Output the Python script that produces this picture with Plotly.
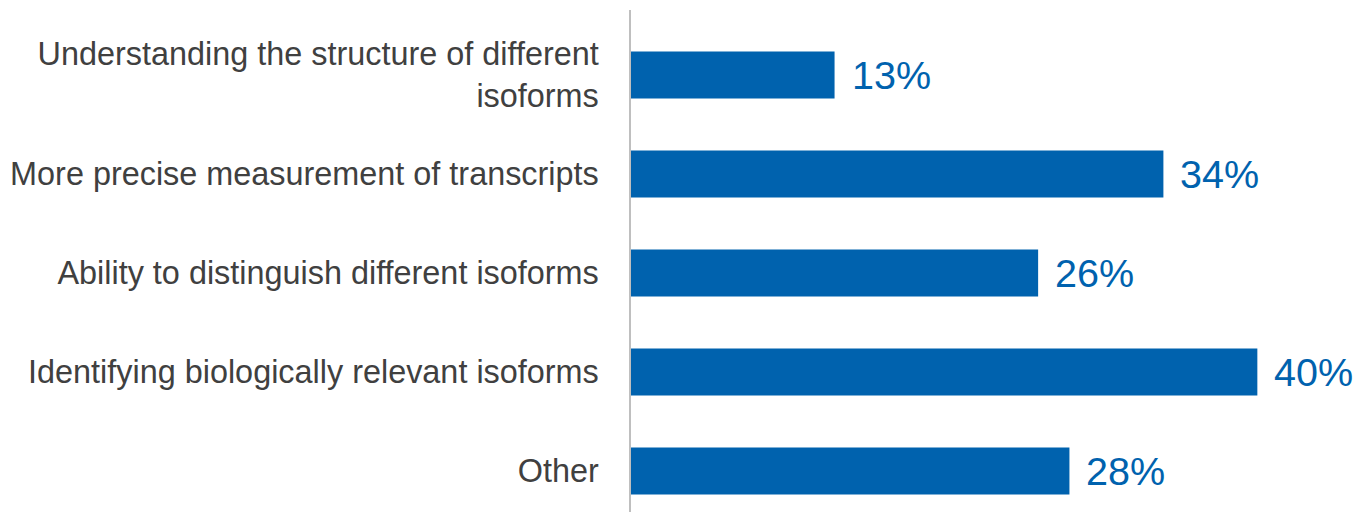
import plotly.graph_objects as go

categories = [
    "Understanding the structure of different<br>isoforms",
    "More precise measurement of transcripts",
    "Ability to distinguish different isoforms",
    "Identifying biologically relevant isoforms",
    "Other",
]
values = [13, 34, 26, 40, 28]

BLUE = "#0062AE"

fig = go.Figure(
    go.Bar(
        x=values,
        y=categories,
        orientation="h",
        marker=dict(color=BLUE, line=dict(width=0)),
        width=0.475,
        hoverinfo="skip",
    )
)

for c, v in zip(categories, values):
    fig.add_annotation(
        x=v, y=c, text=f"{v}%", showarrow=False, xanchor="left", yanchor="middle",
        xshift=15, font=dict(family="Liberation Sans, Arial, sans-serif", size=39.5, color=BLUE),
    )

fig.update_layout(
    width=1356, height=512,
    margin=dict(l=631, r=0, t=10, b=0),
    paper_bgcolor="white", plot_bgcolor="white",
    showlegend=False,
    font=dict(family="Liberation Sans, Arial, sans-serif"),
)
fig.update_xaxes(range=[0, 46.3], visible=False, fixedrange=True, automargin=False)
fig.update_yaxes(
    type="category",
    categoryorder="array", categoryarray=categories,
    range=[4.414, -0.657],
    showline=True, linecolor="#BFBFBF", linewidth=1.5,
    showgrid=False, zeroline=False, ticks="",
    ticklabelstandoff=24,
    automargin=False,
    fixedrange=True,
    tickfont=dict(family="Liberation Sans, Arial, sans-serif", size=32.4, color="#404040"),
)

fig.write_html("out.html", config={"displayModeBar": False},
               post_script="document.body.style.margin='0';")
